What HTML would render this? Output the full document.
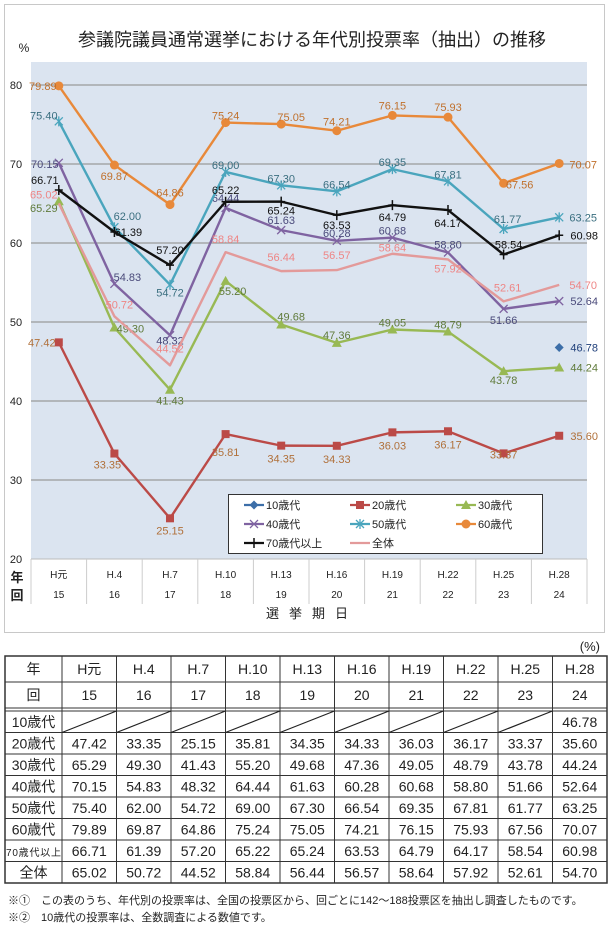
<!DOCTYPE html>
<html><head><meta charset="utf-8">
<style>
html,body{margin:0;padding:0;background:#fff;}
svg{display:block;font-family:"Liberation Sans","Noto Sans CJK JP",sans-serif;}
</style></head>
<body>
<svg id="root" width="610" height="930" viewBox="0 0 610 930" xmlns="http://www.w3.org/2000/svg">
  <rect x="4.5" y="4.5" width="600" height="628" fill="#fff" stroke="#c8c8c8"/>
  <text x="312" y="46" font-size="18" text-anchor="middle" fill="#222">参議院議員通常選挙における年代別投票率（抽出）の推移</text>
  <text x="24" y="52" font-size="12" text-anchor="middle" fill="#222">%</text>
  <rect x="31" y="62" width="556" height="497" fill="#dbe4f0"/>
  <g id="grid"></g>
  <g id="cats"></g>
  <text x="312" y="618" font-size="13" text-anchor="middle" fill="#222" letter-spacing="10">選挙期日</text>
  <g id="series"></g>
  <g id="legend"></g>
  <text x="600" y="651" font-size="13" text-anchor="end" fill="#222">(%)</text>
  <g id="table"></g>
  <text x="8" y="904" font-size="11" fill="#222">※①　この表のうち、年代別の投票率は、全国の投票区から、回ごとに142～188投票区を抽出し調査したものです。</text>
  <text x="8" y="921" font-size="11" fill="#222">※②　10歳代の投票率は、全数調査による数値です。</text>
</svg>
<script>
const years = ["H元","H.4","H.7","H.10","H.13","H.16","H.19","H.22","H.25","H.28"];
const rounds = ["15","16","17","18","19","20","21","22","23","24"];
const yTicks = [20,30,40,50,60,70,80];
const seriesNames = ["10歳代","20歳代","30歳代","40歳代","50歳代","60歳代","70歳代以上","全体"];
const v10 = [null,null,null,null,null,null,null,null,null,46.78];
const v20 = [47.42,33.35,25.15,35.81,34.35,34.33,36.03,36.17,33.37,35.60];
const v30 = [65.29,49.30,41.43,55.20,49.68,47.36,49.05,48.79,43.78,44.24];
const v40 = [70.15,54.83,48.32,64.44,61.63,60.28,60.68,58.80,51.66,52.64];
const v50 = [75.40,62.00,54.72,69.00,67.30,66.54,69.35,67.81,61.77,63.25];
const v60 = [79.89,69.87,64.86,75.24,75.05,74.21,76.15,75.93,67.56,70.07];
const v70 = [66.71,61.39,57.20,65.22,65.24,63.53,64.79,64.17,58.54,60.98];
const vAll = [65.02,50.72,44.52,58.84,56.44,56.57,58.64,57.92,52.61,54.70];

const NS="http://www.w3.org/2000/svg";
function mk(tag,attrs,parent){const e=document.createElementNS(NS,tag);for(const k in attrs)e.setAttribute(k,attrs[k]);parent.appendChild(e);return e;}
const PL=31,PR=587,PB=559,PT=62;
const step=(PR-PL)/years.length;
function xPos(i){return PL+step*(i+0.5);}
function yPos(v){return PB-(v-20)*(PB-85)/60;}
function fmt(v){return v.toFixed(2);}

// grid
const grid=document.getElementById('grid');
yTicks.forEach(t=>{
  if(t>20){const l=mk('line',{x1:PL,x2:PR,y1:yPos(t),y2:yPos(t),stroke:'#9a9a9a','stroke-width':1.2},grid);
  
  }
  const tx=mk('text',{x:16,y:yPos(t)+4,'font-size':11,'text-anchor':'middle',fill:'#222'},grid);
  tx.textContent=t;
  
  
});
// category table
const cats=document.getElementById('cats');
mk('line',{x1:PL,x2:PR,y1:PB,y2:PB,stroke:'#bbb'},cats);
for(let i=0;i<=years.length;i++){mk('line',{x1:PL+step*i,x2:PL+step*i,y1:PB,y2:604,stroke:'#ccc'},cats);}
years.forEach((y,i)=>{
  const t=mk('text',{x:xPos(i),y:578,'font-size':10,'text-anchor':'middle',fill:'#222'},cats);t.textContent=y;
  
  
  const r=mk('text',{x:xPos(i),y:598,'font-size':10,'text-anchor':'middle',fill:'#222'},cats);r.textContent=rounds[i];
  
  
});
const yl=mk('text',{x:17,y:582,'font-size':13,'text-anchor':'middle',fill:'#222','font-weight':'bold'},cats);yl.textContent='年';


const rl=mk('text',{x:17,y:600,'font-size':13,'text-anchor':'middle',fill:'#222','font-weight':'bold'},cats);rl.textContent='回';



// series config (styles + label offsets)
const cfg=[
 {vals:v10,color:'#3c6ea8',lc:'#1f3f7a',m:'diamond',off:[[0,0],[0,0],[0,0],[0,0],[0,0],[0,0],[0,0],[0,0],[0,0],[25,0]]},
 {vals:v20,color:'#bb4a47',lc:'#b0703a',m:'square',off:[[-17,0],[-7,11],[0,12],[0,18],[0,13],[0,13],[0,13],[0,13],[0,1],[25,0]]},
 {vals:v30,color:'#98b954',lc:'#5f7a3a',m:'triangle',off:[[-15,7],[16,1],[0,11],[7,10],[10,-8],[0,-8],[0,-7],[0,-7],[0,9],[25,0]]},
 {vals:v40,color:'#7f63a1',lc:'#4a4a7a',m:'x',off:[[-14,1],[13,-7],[0,5],[0,-10],[0,-10],[0,-8],[0,-7],[0,-8],[0,11],[25,0]]},
 {vals:v50,color:'#4aa5bd',lc:'#3b6f80',m:'star',off:[[-15,-6],[13,-11],[0,8],[0,-7],[0,-7],[0,-7],[0,-7],[0,-7],[4,-10],[24,0]]},
 {vals:v60,color:'#e8893a',lc:'#c0702c',m:'circle',off:[[-16,0],[0,11],[0,-12],[0,-7],[10,-7],[0,-9],[0,-10],[0,-10],[16,1],[24,1]]},
 {vals:v70,color:'#111',lc:'#111',m:'plus',off:[[-14,-10],[14,0],[0,-15],[0,-12],[0,9],[0,10],[0,12],[0,13],[5,-10],[25,0]]},
 {vals:vAll,color:'#e39a9a',lc:'#ee8585',m:'none',off:[[-15,-9],[5,-12],[0,-17],[0,-13],[0,-14],[0,-15],[0,-6],[0,9],[4,-14],[24,0]]}
];
function marker(g,type,x,y,c){
  if(type==='circle')mk('circle',{cx:x,cy:y,r:4.5,fill:c},g);
  else if(type==='square')mk('rect',{x:x-4,y:y-4,width:8,height:8,fill:c},g);
  else if(type==='triangle')mk('polygon',{points:`${x},${y-5} ${x+5},${y+4} ${x-5},${y+4}`,fill:c},g);
  else if(type==='diamond')mk('polygon',{points:`${x},${y-4.5} ${x+4.5},${y} ${x},${y+4.5} ${x-4.5},${y}`,fill:c},g);
  else if(type==='x'){mk('path',{d:`M${x-4} ${y-4}L${x+4} ${y+4}M${x-4} ${y+4}L${x+4} ${y-4}`,stroke:c,'stroke-width':1.3},g);}
  else if(type==='star'){mk('path',{d:`M${x-4} ${y-4}L${x+4} ${y+4}M${x-4} ${y+4}L${x+4} ${y-4}M${x} ${y-5}L${x} ${y+5}`,stroke:c,'stroke-width':1.3},g);}
  else if(type==='plus'){mk('path',{d:`M${x-4} ${y}L${x+4} ${y}M${x} ${y-5}L${x} ${y+5}`,stroke:c,'stroke-width':1.5},g);}
}
const sg=document.getElementById('series');
cfg.forEach((s,si)=>{
  const g=mk('g',{},sg);
  
  
  const pts=[];
  s.vals.forEach((v,i)=>{if(v!==null)pts.push([xPos(i),yPos(v)]);});
  if(pts.length>1){
    const pl=mk('polyline',{points:pts.map(p=>p.join(',')).join(' '),fill:'none',stroke:s.color,'stroke-width':2.4,'stroke-linejoin':'round'},g);
    
    
  }
  s.vals.forEach((v,i)=>{
    if(v===null)return;
    const x=xPos(i),y=yPos(v);
    marker(g,s.m,x,y,s.color);
    const t=mk('text',{x:x+s.off[i][0],y:y+s.off[i][1]+4,'font-size':11,'text-anchor':'middle',fill:s.lc},g);
    t.textContent=fmt(v);
    
    
  });
});
// legend
const lg=document.getElementById('legend');


mk('rect',{x:228.5,y:494.5,width:314,height:59,fill:'#fff',stroke:'#333'},lg);
cfg.forEach((s,si)=>{
  const col=si%3,row=Math.floor(si/3);
  const lx=244+col*106,ly=505+row*19;
  const e=mk('g',{},lg);
  
  
  mk('line',{x1:lx,x2:lx+20,y1:ly,y2:ly,stroke:s.color,'stroke-width':2.2},e);
  marker(e,s.m,lx+10,ly,s.color);
  const t=mk('text',{x:lx+22,y:ly+4,'font-size':11,fill:'#222'},e);
  t.textContent=seriesNames[si];
});
// table
const tb=document.getElementById('table');


const TL=5,TR=607,C0=62,cw=(TR-C0)/10;
const rowsY=[656,682,708];
const dataTop=711,rh=21.5;
const bottom=dataTop+8*rh;
mk('rect',{x:TL,y:656,width:TR-TL,height:bottom-656,fill:'none',stroke:'#333','stroke-width':1.5},tb);
mk('line',{x1:TL,x2:TR,y1:682,y2:682,stroke:'#333'},tb);
mk('line',{x1:TL,x2:TR,y1:708,y2:708,stroke:'#333'},tb);
mk('line',{x1:TL,x2:TR,y1:711,y2:711,stroke:'#333'},tb);
for(let r=1;r<8;r++)mk('line',{x1:TL,x2:TR,y1:dataTop+r*rh,y2:dataTop+r*rh,stroke:'#333'},tb);
for(let c=0;c<10;c++)mk('line',{x1:C0+c*cw,x2:C0+c*cw,y1:656,y2:bottom,stroke:'#333'},tb);
function cell(txt,x,y,fs,name){const t=mk('text',{x:x,y:y,'font-size':fs,'text-anchor':'middle',fill:'#222'},tb);t.textContent=txt;
  
  return t;}
cell('年',(TL+C0)/2,674,14,'table-header');
cell('回',(TL+C0)/2,700,14,'table-header');
years.forEach((y,i)=>{cell(y,C0+cw*(i+0.5),674,14,'table-year');cell(rounds[i],C0+cw*(i+0.5),700,14,'table-round');});
cfg.forEach((s,si)=>{
  const cy=dataTop+si*rh+rh/2+5;
  const lab=cell(seriesNames[si],(TL+C0)/2,cy,si===6?10:14,'table-row-label');
  if(si===6)lab.setAttribute('textLength','55');
  s.vals.forEach((v,i)=>{
    if(v===null){mk('line',{x1:C0+cw*i,y1:dataTop+si*rh+rh,x2:C0+cw*(i+1),y2:dataTop+si*rh,stroke:'#222','stroke-width':1.2},tb);}
    else cell(fmt(v),C0+cw*(i+0.5),cy,14,'table-value');
  });
});
</script>
</body></html>
